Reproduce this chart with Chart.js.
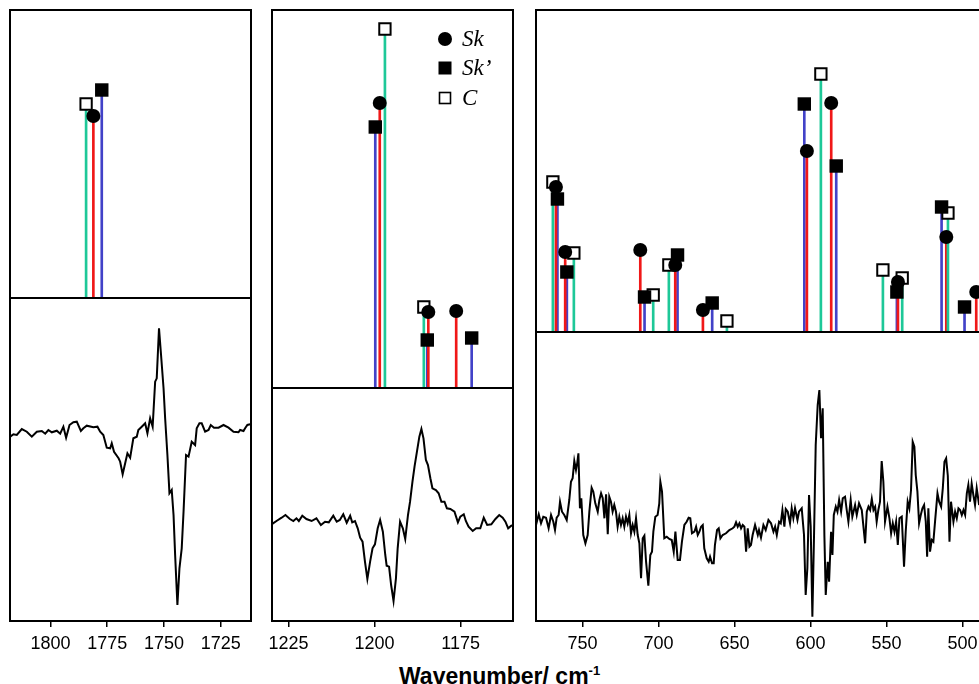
<!DOCTYPE html>
<html>
<head>
<meta charset="utf-8">
<script src="https://cdn.jsdelivr.net/npm/chart.js@4.4.0/dist/chart.umd.min.js"></script>
<style>
html, body { margin: 0; padding: 0; background: #fff; overflow: hidden; }
body { width: 979px; height: 684px; position: relative; }
canvas { position: absolute; }
#xtitle { position: absolute; left: 399px; top: 663px; line-height: 24px; white-space: nowrap;
          font: bold 23px "Liberation Sans", Arial, sans-serif; color: #000; }
#xtitle sup { font-size: 13px; line-height: 0; }
</style>
</head>
<body>
<div id="xtitle">Wavenumber/ cm<sup>-1</sup></div>
<script>
// calculated bands (cm-1) and relative intensities
const skWn   = [1781.1, 1198.5, 1184.4, 1176.3, 767.5, 761.4, 712.0, 689.0, 670.8, 602.4, 586.4, 542.5, 510.7, 491.0];
const skInt  = [182, 285, 76, 77, 145, 80, 82, 67, 22, 181, 229, 50, 95, 40];
const skpWn  = [1777.4, 1199.8, 1184.7, 1171.8, 766.5, 760.3, 709.2, 687.5, 664.7, 604.1, 583.1, 543.2, 513.8, 498.7];
const skpInt = [208, 261, 48, 50, 133, 60, 35, 77, 29, 228, 166, 40, 125, 25];
const cWn    = [1784.3, 1197.0, 1185.7, 769.5, 755.7, 703.5, 693.2, 655.0, 593.2, 552.4, 539.7, 509.6];
const cInt   = [194, 359, 81, 150, 79, 37, 67, 11, 258, 62, 54, 119];

// tick labels
const ticks1 = [1800, 1775, 1750, 1725];
const ticks2 = [1225, 1200, 1175];
const ticks3 = [750, 700, 650, 600, 550, 500, 450];

// experimental difference spectra
const sp1Wn = [1817.7, 1816.3, 1814.8, 1812.6, 1810.4, 1808.2, 1806.0, 1803.8, 1802.3, 1800.9, 1799.4, 1797.2, 1795.7, 1794.3, 1793.1, 1791.6, 1789.9, 1788.4, 1786.6, 1785.5, 1784.0, 1781.1, 1779.3, 1778.1, 1776.7, 1775.2, 1773.7, 1773.0, 1772.0, 1770.0, 1769.3, 1768.2, 1767.1, 1766.1, 1764.9, 1763.5, 1762.0, 1761.3, 1759.8, 1758.3, 1757.3, 1756.1, 1755.0, 1753.9, 1753.2, 1752.2, 1751.3, 1750.2, 1749.5, 1748.5, 1747.6, 1746.6, 1745.8, 1745.1, 1744.1, 1743.2, 1742.2, 1741.4, 1740.3, 1739.2, 1737.8, 1736.3, 1735.6, 1734.4, 1733.4, 1731.9, 1730.4, 1729.4, 1728.0, 1726.0, 1723.8, 1721.6, 1719.4, 1717.2, 1716.5, 1715.0, 1714.3, 1713.3, 1712.1];
const sp1Ab = [-1.7, 0.7, 0, 6, 3.3, -1.7, 3.3, 4, 1.3, 5, 2.7, 4.3, 1.3, 8.3, -2.7, 10, 12.7, 13.3, 4, 6.7, 9.3, 7.7, 8.3, 3.3, 0, -12.7, -13.3, -8.3, -16.7, -23.3, -26.7, -39.3, -28.3, -18.3, -22.7, -3.3, -1.7, 5, 8.3, 11.7, 1.7, 16.7, 8.3, 53.3, 56.7, 106.7, 80, 46.7, 16.7, -20, -58.3, -55, -80, -120, -170, -133.3, -113.3, -76.7, -20, -21.7, -6.7, -10, 6.7, 11.7, 11.7, 3.3, 5, 10, 7.3, 7.3, 10, 7.3, 3.3, 2.7, 5, 4, 6.7, 10, 10.7];

const sp2Wn = [1229.9, 1228.5, 1227.0, 1225.9, 1224.6, 1223.6, 1222.7, 1222.0, 1221.0, 1219.8, 1218.3, 1216.9, 1215.6, 1214.4, 1213.3, 1212.0, 1211.0, 1210.1, 1209.1, 1208.1, 1207.1, 1206.5, 1205.7, 1204.9, 1204.2, 1203.5, 1202.8, 1202.1, 1201.3, 1200.6, 1199.9, 1199.1, 1198.4, 1197.6, 1196.9, 1196.5, 1195.8, 1195.2, 1194.5, 1193.8, 1193.3, 1192.6, 1191.8, 1191.1, 1190.3, 1189.7, 1189.0, 1188.4, 1187.7, 1187.0, 1186.4, 1185.8, 1185.1, 1184.5, 1183.8, 1183.2, 1182.2, 1181.4, 1180.6, 1179.7, 1179.0, 1178.0, 1176.8, 1175.8, 1175.1, 1174.1, 1173.5, 1172.7, 1171.5, 1170.5, 1169.3, 1168.3, 1167.3, 1166.1, 1164.9, 1163.8, 1162.8, 1162.0, 1161.2, 1160.3, 1159.6];
const sp2Ab = [-1.3, 2, 5.3, 8, 4, 2, 4.7, 2, 7.3, 4, 2, 4.7, -2, 1.3, 0.7, 7.3, 1.3, 3, 8.7, 0.3, 7.3, 0.7, 2, -5.3, -14.7, -18.7, -38.7, -56, -38.7, -25.3, -21.3, -5.3, 3, -8.7, -32, -42.7, -43.7, -62, -78, -55.3, -25.3, 1.3, -5.3, -16, 8, 21.3, 41.3, 56.3, 71.3, 86.3, 94, 84.7, 63, 58, 44.7, 34.7, 33, 29.7, 21.3, 21.3, 14.7, 14, 11.3, 0.7, 6.3, 8.7, 2, -3.7, -8, -5.3, -5.3, 5.3, -2, -1.3, 4, 8, 5.3, 1.3, -5.3, -2.7, -2];

const sp3Wn = [780.6, 778.8, 777.3, 775.8, 774.0, 772.3, 770.7, 769.2, 768.1, 767.0, 765.7, 764.8, 763.5, 762.0, 760.4, 758.7, 757.6, 756.5, 755.4, 754.3, 753.4, 752.7, 751.7, 750.8, 749.5, 748.1, 746.6, 745.5, 744.0, 742.9, 741.6, 740.0, 738.9, 737.8, 736.7, 735.6, 734.5, 733.4, 732.4, 731.3, 730.2, 729.1, 728.0, 726.9, 725.8, 724.7, 723.6, 722.5, 721.4, 720.3, 719.2, 718.1, 717.0, 715.9, 714.8, 713.7, 712.6, 711.5, 710.4, 709.3, 708.2, 706.7, 705.4, 704.3, 703.4, 702.1, 700.6, 699.5, 698.8, 697.7, 696.2, 694.6, 692.9, 691.3, 690.0, 688.9, 687.4, 685.9, 684.6, 683.0, 681.5, 680.2, 679.1, 678.0, 676.4, 675.3, 674.2, 673.1, 672.0, 670.9, 669.9, 668.3, 667.0, 666.1, 664.8, 663.7, 662.9, 661.5, 660.4, 659.3, 657.8, 655.6, 653.4, 651.2, 650.1, 649.0, 647.9, 646.8, 645.7, 644.6, 643.5, 642.4, 641.3, 640.2, 639.2, 638.1,
  636.5, 634.7, 633.9, 632.6, 631.0, 629.5, 627.7, 626.0, 624.4, 623.3, 622.2, 620.7, 619.6, 618.5, 617.2, 616.3, 615.0, 613.5, 612.4, 611.3, 610.2, 608.6, 607.6, 605.8, 604.3, 603.2, 602.1, 601.0, 599.9, 598.8, 597.7, 596.6, 595.3, 594.2, 593.1, 592.0, 590.9, 590.0, 588.7, 587.8, 586.5, 585.6, 584.7, 583.4, 582.3, 581.2, 579.9, 578.8, 577.3, 576.2, 575.1, 573.6, 572.5, 570.7, 569.6, 568.1, 566.3, 565.2, 564.1, 563.0, 561.9, 560.8, 559.7, 558.6, 557.5, 556.5, 555.4, 554.3, 553.2, 552.1, 551.0, 549.4, 548.1, 547.0, 545.9, 544.8, 543.7, 542.6, 541.5, 540.0, 538.5, 537.4, 536.1, 535.0, 533.9, 532.8, 531.7, 530.8, 529.7, 528.6, 527.5, 526.4, 525.3, 524.2, 523.3, 522.5, 521.4, 520.3, 519.2, 518.1, 516.5, 515.4, 514.1, 513.0, 511.9, 510.8, 509.7, 508.6, 507.6, 506.0, 504.9, 503.8, 502.7, 501.6, 500.5, 499.4, 498.3, 497.2, 496.2, 495.1, 494.0, 492.9, 491.8, 490.7, 489.1];
const sp3Ab = [-2, 8.7, -0.3, 6.3, 5.3, -5.3, 8, 1.3, -7, 5.3, 8, 21.3, 11.3, 8, 3, 23, 41.3, 44.7, 62, 53, 60.7, 69.7, 14.7, 24.7, -12, -20.3, -12, 11.3, 35.3, 31.3, 19.7, 11.3, 23, 29.7, 24.7, 4.7, 28.7, -11.3, 26.3, 21.3, 11.3, 18, 11.3, -3.7, 6.3, -2, 4.7, -3.7, 6.3, -0.3, 8, -10.3, -2, -8.7, 4.7, -12, -20.3, -55.3, -15.3, -12.7, -38.7, -62.7, -32, -28.7, -8.7, 6.3, 8, 19.7, 41.3, 31.3, -15.3, -13.7, -16, -17, -28.7, -8.7, -37, -37, -18.7, -2, 1.3, 5.3, 4.7, -10.3, -8.7, -3.7, -12, -8.7, -3.7, -2, -25.3, -35.3, -38.7, -33.7, -40.3, -40.3, -22, -7, -5.3, -15.3, -12, -10.3, -7, -5.3, -3.7, 0.7, -3.7, -0.3, -5.3, -2, -3.7, -28.7, -5.3, -23.7, -22, -12,
  -2, -12, -7, -14.7, -2, -7, 3, -0.3, -8.7, -3.7, -12, 1.3, -0.3, 13, -3.7, 14, 11.3, -0.3, 14.7, 4.7, 14.7, 3, 11.3, 14.7, -12, -72, -45.3, 28, -3.7, -93.7, -12, 78, 118, 133, 84.7, 114.7, -12, -72, -38.7, -58.7, -8.7, -32, 8, 16.3, 11.3, 23, 11.3, 24.7, 26.3, 13, 1.3, 23, 6.3, 18, 8, 19.7, 13, -3.7, -20.3, 11.3, 16.3, 13, 24, 13, 16.3, 1.3, 13, 21.3, 62, 41.3, 1.3, 16.3, 4.7, -10.3, -0.3, -8.7, 1.3, -22, 4.7, 6.3, -43.7, -8.7, 21.3, 14.7, 33, 81.3, 76.3, 48, 31.3, -0.3, 8, 14.7, 18, 1.3, -33.7, 14.7, -28.7, -17, -18.7, 1.3, 29.7, 21.3, 16.3, 34.7, 61.3, 64.7, 47.3, -18.7, 21.3, 1.3, 11.3, 4.7, 14.7, 13, 8, 13, 8, 29.7, 38, 21.3, 39.3, 28, 18, 34.7, 18];

const RED = '#f01818';
const BLUE = '#4242c8';
const GREEN = '#1ec898';

// panel boxes on the page and axis ranges
const panels = [
    { left: 10, right: 251, top: 10, mid: 298, bottom: 621, xHi: 1817.8, xLo: 1711.7, ticks: ticks1,
      topMax: 288, botLo: -186, botHi: 137, wn: sp1Wn, ab: sp1Ab },
    { left: 272, right: 513, top: 10, mid: 388, bottom: 621, xHi: 1229.8, xLo: 1159.8, ticks: ticks2,
      topMax: 378, botLo: -98, botHi: 135, wn: sp2Wn, ab: sp2Ab, legend: true },
    { left: 536, right: 1060, top: 10, mid: 332, bottom: 621, xHi: 780.6, xLo: 435.9, ticks: ticks3,
      topMax: 322, botLo: -98, botHi: 191, wn: sp3Wn, ab: sp3Ab }
];

Chart.defaults.font.family = '"Liberation Sans", Arial, sans-serif';
Chart.defaults.color = '#000';

// black box round the plot area
const frame = {
    id: 'frame',
    afterDatasetsDraw(chart) {
        const { ctx, chartArea: a } = chart;
        ctx.save();
        ctx.strokeStyle = '#000';
        ctx.lineWidth = 2;
        ctx.strokeRect(a.left, a.top, a.right - a.left, a.bottom - a.top);
        ctx.restore();
    }
};

// Sk / Sk' / C key inside the middle panel
const keyBox = {
    id: 'keyBox',
    afterDraw(chart) {
        const { ctx, chartArea: a } = chart;
        const mx = a.left + 173, tx = a.left + 190;
        const rows = [29, 58, 88];
        ctx.save();
        ctx.fillStyle = '#000';
        ctx.beginPath();
        ctx.arc(mx, a.top + rows[0], 7, 0, Math.PI * 2);
        ctx.fill();
        ctx.fillRect(mx - 6.5, a.top + rows[1] - 6.5, 13, 13);
        ctx.lineWidth = 1.6;
        ctx.strokeRect(mx - 5.5, a.top + rows[2] - 5.5, 11, 11);
        ctx.font = 'italic 23px "Liberation Serif", "DejaVu Serif", serif';
        ctx.textBaseline = 'middle';
        ctx.fillText('Sk', tx, a.top + rows[0] + 1);
        ctx.fillText('Sk\u2019', tx, a.top + rows[1] + 1);
        ctx.fillText('C', tx, a.top + rows[2] + 1);
        ctx.restore();
    }
};

function addCanvas(left, top, w, h) {
    const c = document.createElement('canvas');
    c.width = w;
    c.height = h;
    c.style.left = left + 'px';
    c.style.top = top + 'px';
    c.style.width = w + 'px';
    c.style.height = h + 'px';
    document.body.appendChild(c);
    return c;
}

function sticks(wn, inten, color, style, radius, filled, order, p) {
    const pts = wn.map((x, i) => ({ x, y: inten[i] })).filter(d => d.x >= p.xLo && d.x <= p.xHi);
    return [
        { type: 'bar', data: pts, backgroundColor: color, barThickness: 2, grouped: false, order: 10 },
        { type: 'scatter', data: pts, pointStyle: style, pointRadius: radius,
          backgroundColor: filled ? '#000' : '#fff', borderColor: '#000',
          borderWidth: filled ? 0 : 2, clip: false, order }
    ];
}

const base = {
    responsive: false,
    animation: false,
    events: [],
    plugins: { legend: { display: false }, tooltip: { enabled: false } }
};

panels.forEach(p => {
    const w = p.right - p.left + 40;

    // calculated spectrum (sticks)
    const ct = addCanvas(p.left - 20, p.top - 10, w, p.mid - p.top + 20);
    new Chart(ct, {
        type: 'scatter',
        data: {
            datasets: [
                ...sticks(cWn, cInt, GREEN, 'rect', 8, false, 3, p),
                ...sticks(skWn, skInt, RED, 'circle', 7, true, 2, p),
                ...sticks(skpWn, skpInt, BLUE, 'rect', 9.5, true, 1, p)
            ]
        },
        options: {
            ...base,
            layout: { padding: { left: 20, right: 20, top: 10, bottom: 10 } },
            scales: {
                x: { type: 'linear', reverse: true, min: p.xLo, max: p.xHi, offset: false, display: false },
                y: { min: 0, max: p.topMax, display: false }
            }
        },
        plugins: p.legend ? [frame, keyBox] : [frame]
    });

    // measured difference spectrum
    const cb = addCanvas(p.left - 20, p.mid - 10, w, p.bottom - p.mid + 50);
    new Chart(cb, {
        type: 'line',
        data: {
            datasets: [{
                data: p.wn.map((x, i) => ({ x, y: p.ab[i] })),
                borderColor: '#000',
                borderWidth: 2,
                pointRadius: 0,
                tension: 0
            }]
        },
        options: {
            ...base,
            layout: { padding: { left: 20, right: 20, top: 10, bottom: 0 } },
            scales: {
                x: {
                    type: 'linear', reverse: true, min: p.xLo, max: p.xHi,
                    afterBuildTicks: s => { s.ticks = p.ticks.map(v => ({ value: v })); },
                    afterFit: s => { s.height = 40; },
                    grid: { drawOnChartArea: false, drawTicks: true, tickLength: 6, color: '#000', lineWidth: 1.5 },
                    border: { display: false },
                    ticks: { font: { size: 18 }, padding: 6, maxRotation: 0, autoSkip: false, callback: v => String(v) }
                },
                y: { min: p.botLo, max: p.botHi, display: false }
            }
        },
        plugins: [frame]
    });
});
</script>
</body>
</html>
